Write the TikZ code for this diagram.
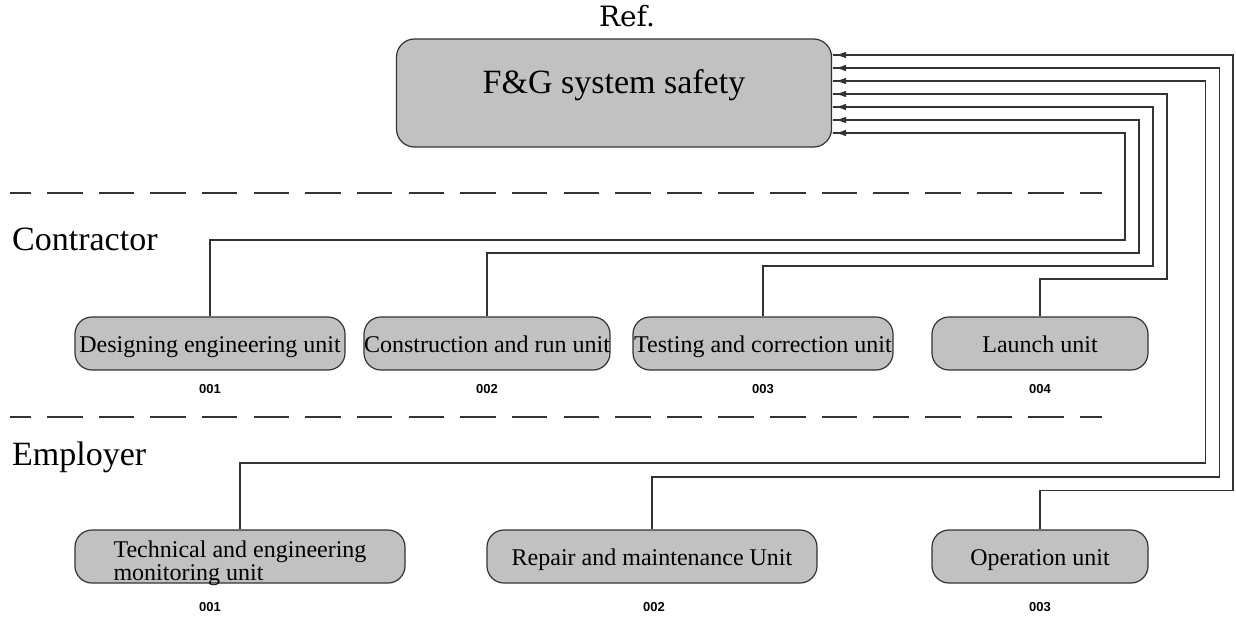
\documentclass[tikz,border=0pt]{standalone}
\usepackage{fontspec}
\setmainfont{Liberation Serif}
\newfontfamily\reffont{DejaVu Serif}
\newfontfamily\numfont{Liberation Sans}
\usetikzlibrary{arrows.meta}
\definecolor{boxfill}{HTML}{C1C1C1}
\definecolor{edge}{HTML}{333333}
\tikzset{
  mainbox/.style={draw=edge, fill=boxfill, line width=1.2pt, rounded corners=18pt,
    minimum width=435pt, minimum height=108pt, inner sep=0pt,
    text height=10pt, text depth=10pt,
    font=\fontsize{34}{38}\selectfont},
  unitbox/.style={draw=edge, fill=boxfill, line width=1.2pt, rounded corners=17pt,
    minimum height=53pt, inner sep=0pt, text height=22pt, text depth=4pt,
    font=\fontsize{24}{24}\selectfont},
  twoline/.style={draw=edge, fill=boxfill, line width=1.2pt, rounded corners=17pt,
    minimum height=53pt, inner sep=0pt, font=\fontsize{24}{24}\selectfont},
  numlabel/.style={font=\numfont\bfseries\fontsize{13}{14}\selectfont, inner sep=0pt},
  link/.style={draw=edge, line width=1.3pt,
    -{Triangle[length=9pt,width=6pt,sep=0pt]Rectangle[length=5pt,width=1.3pt,sep=0pt]}},
  sepline/.style={draw=edge, line width=1.3pt, dash pattern=on 35.5pt off 16.15pt, dash phase=14.65pt},
  side/.style={anchor=base west, inner sep=0pt, font=\fontsize{34}{36}\selectfont},
}
\begin{document}
\begin{tikzpicture}[x=1pt,y=-1pt]
\useasboundingbox (0,0) rectangle (1236,621);

% title
\node[inner sep=0pt, anchor=base, font=\reffont\fontsize{28}{30}\selectfont] (ref) at (627,27) {Ref.};

% main box
\node[mainbox] (F) at (614,93) {F\&G system safety};

% separators
\coordinate (s1a) at (10,193); \coordinate (s1b) at (1102,193);
\coordinate (s2a) at (10,417); \coordinate (s2b) at (1102,417);
\draw[sepline] (s1a) -- (s1b);
\draw[sepline] (s2a) -- (s2b);

% side labels
\node[side] (contractor) at (12,250) {Contractor};
\node[side] (employer) at (12,465) {Employer};

% contractor units
\node[unitbox, minimum width=270pt] (d1) at (210,343.5) {Designing engineering unit};
\node[unitbox, minimum width=246pt] (d2) at (487,343.5) {Construction and run unit};
\node[unitbox, minimum width=260pt] (d3) at (763,343.5) {Testing and correction unit};
\node[unitbox, minimum width=216pt] (d4) at (1040,343.5) {Launch unit};

\node[numlabel] (n1) at (210,389) {001};
\node[numlabel] (n2) at (487,389) {002};
\node[numlabel] (n3) at (763,389) {003};
\node[numlabel] (n4) at (1040,389) {004};

% employer units
\node[twoline, minimum width=330pt] (e1) at (240,556.5)
  {\raisebox{-14pt}[0pt][0pt]{\begin{tabular}{@{}l@{}}Technical and engineering\\[-1pt]monitoring unit\end{tabular}}};
\node[unitbox, minimum width=330pt] (e2) at (652,556.5) {Repair and maintenance Unit};
\node[unitbox, minimum width=216pt] (e3) at (1040,556.5) {Operation unit};

\node[numlabel] (m1) at (210,607) {001};
\node[numlabel] (m2) at (654,607) {002};
\node[numlabel] (m3) at (1040,607) {003};

% routing corners
\coordinate (b1) at (1125,240);   \coordinate (t1) at (1125,133);
\coordinate (b2) at (1139,253);   \coordinate (t2) at (1139,120);
\coordinate (b3) at (1153,266);   \coordinate (t3) at (1153,107);
\coordinate (b4) at (1167,279);   \coordinate (t4) at (1167,94);
\coordinate (b5) at (1205.5,463); \coordinate (t5) at (1205.5,81);
\coordinate (b6) at (1219.5,477); \coordinate (t6) at (1219.5,68);
\coordinate (b7) at (1233,490.5); \coordinate (t7) at (1233,55);

\draw[link] (d1.north) |- (b1) -- (t1) -- (F.east |- t1);
\draw[link] (d2.north) |- (b2) -- (t2) -- (F.east |- t2);
\draw[link] (d3.north) |- (b3) -- (t3) -- (F.east |- t3);
\draw[link] (d4.north) |- (b4) -- (t4) -- (F.east |- t4);
\draw[link] (e1.north) |- (b5) -- (t5) -- (F.east |- t5);
\draw[link] (e2.north) |- (b6) -- (t6) -- (F.east |- t6);
\draw[link] (e3.north) |- (b7) -- (t7) -- (F.east |- t7);
\end{tikzpicture}
\end{document}
